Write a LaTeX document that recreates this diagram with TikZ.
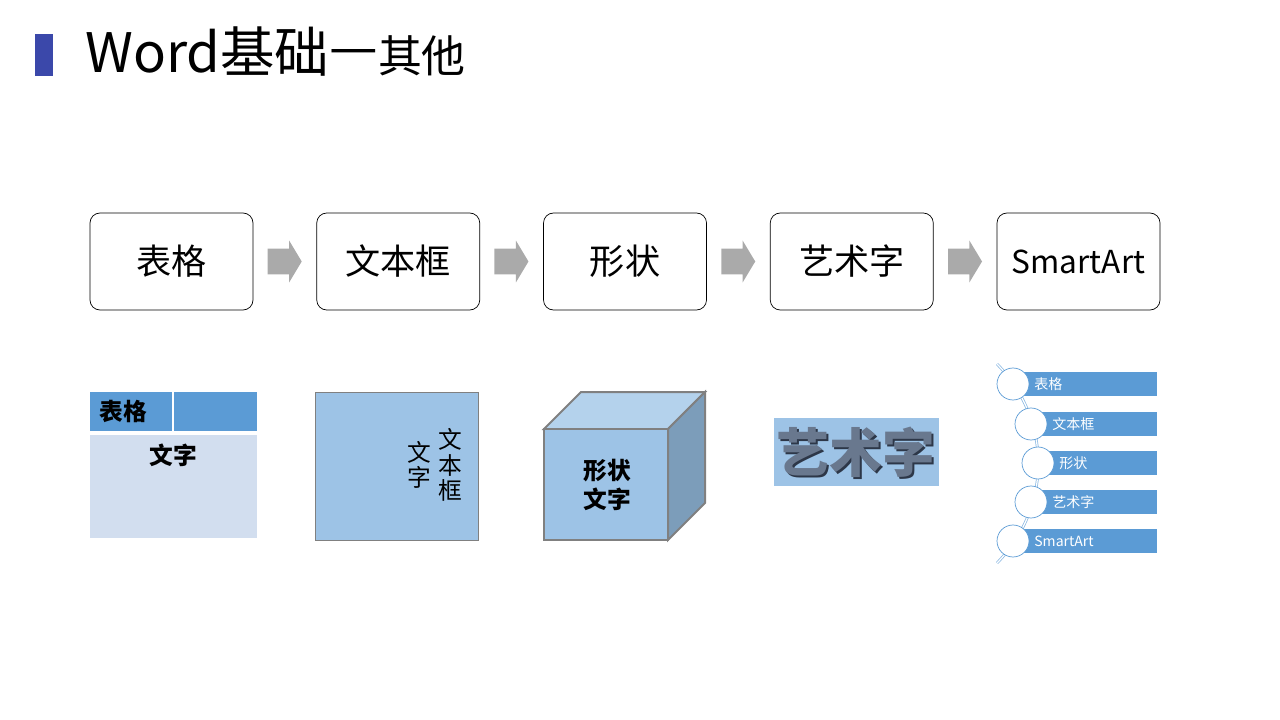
\documentclass[tikz,border=0pt]{standalone}
\usepackage{fontspec}
\setmainfont{Noto Sans CJK SC}
\usetikzlibrary{positioning,shapes.arrows,calc}
\definecolor{titlebar}{RGB}{59,72,170}
\definecolor{hdrblue}{RGB}{91,155,213}
\definecolor{cellblue}{RGB}{210,222,239}
\definecolor{boxblue}{RGB}{157,195,230}
\definecolor{topblue}{RGB}{180,210,236}
\definecolor{sideblue}{RGB}{124,157,186}
\definecolor{arrowgray}{RGB}{170,170,170}
\definecolor{edgegray}{RGB}{128,128,128}
\definecolor{artgray}{RGB}{105,120,142}
\definecolor{artshadow}{RGB}{45,55,72}
\begin{document}
\begin{tikzpicture}[x=0.2mm,y=-0.2mm,node distance=0 and 12.75mm,
  stepbox/.style={draw,rounded corners=2mm,minimum width=32.6mm,minimum height=19.4mm,
              inner sep=0pt,outer sep=0pt,font=\fontsize{20}{24}\selectfont},
  blockarrow/.style={single arrow,fill=arrowgray,minimum height=6.8mm,inner xsep=0pt,
              inner ysep=2.5mm,single arrow head extend=1.6mm,single arrow tip angle=118,
              xshift=-0.8mm},
  celltext/.style={font=\fontsize{13.5}{14.5}\selectfont\bfseries,inner sep=0pt},
  vtext/.style={font=\fontsize{13.5}{14.5}\selectfont,align=center,inner sep=0pt},
  ball/.style={circle,draw=hdrblue,fill=white,minimum size=6.4mm,inner sep=0pt},
  itemtext/.style={anchor=west,text=white,font=\fontsize{8}{9}\selectfont,inner sep=0pt}]
  \useasboundingbox (0,0) rectangle (1280,720);
  % title
  \fill[titlebar] (35,34) rectangle (53,76);
  \node[anchor=base west,font=\fontsize{31}{36}\selectfont] (title) at (79,73) {Word基础\raisebox{1.2mm}{—}{\fontsize{25}{30}\selectfont 其他}};
  % top row
  \node[stepbox] (s1) at (171.5,261.5) {表格};
  \node[stepbox, right=of s1] (s2) {文本框};
  \node[stepbox, right=of s2] (s3) {形状};
  \node[stepbox, right=of s3] (s4) {艺术字};
  \node[stepbox, right=of s4, font=\fontsize{18}{22}\selectfont] (s5) {SmartArt};
  \foreach \a/\b in {s1/s2,s2/s3,s3/s4,s4/s5}
    \node[blockarrow] (arr-\a) at ($(\a.east)!0.5!(\b.west)$) {};
  % table
  \fill[hdrblue] (90,392) rectangle (257,431);
  \draw[white,line width=0.35mm] (173,392) -- (173,431);
  \fill[cellblue] (90,435) rectangle (257,538);
  \node[celltext] (tblhead) at (123,411) {表格};
  \node[celltext] (tblcell) at (173,455) {文字};
  % text box
  \node[draw=edgegray,fill=boxblue,minimum width=32.6mm,minimum height=29.6mm] (tbox) at (396.5,466) {};
  \node[vtext] (col1) at (450,465) {文\\本\\框};
  \node[vtext] (col2) at (419,465) {文\\字};
  % cube
  \filldraw[draw=edgegray,line width=0.4mm,fill=topblue] (544,429) -- (581,392) -- (705,392) -- (668,429) -- cycle;
  \filldraw[draw=edgegray,line width=0.4mm,fill=sideblue] (668,429) -- (705,392) -- (705,503) -- (668,540) -- cycle;
  \filldraw[draw=edgegray,line width=0.4mm,fill=boxblue] (544,429) rectangle (668,540);
  \node[celltext,align=center,font=\fontsize{13.5}{16.5}\selectfont\bfseries] (cubetext) at (607,485) {形状\\文字};
  % word art
  \fill[boxblue] (774,418) rectangle (939,486);
  \node[font=\fontsize{30}{34}\selectfont\bfseries,text=artshadow] (artshade) at (858,454) {艺术字};
  \node[font=\fontsize{30}{34}\selectfont\bfseries,text=artgray] (art) at (856,452) {艺术字};
  % smartart
  \draw[hdrblue!70,double=white,double distance=0.25mm,line width=0.15mm]
    (997,364) .. controls (1052,420) and (1052,507) .. (997,563);
  \foreach \n/\x/\y/\t in {1/1013/384/表格,2/1031/424/文本框,3/1038/463/形状,4/1031/502/艺术字,5/1013/541/SmartArt}{
    \fill[hdrblue] (\x,\y-12) rectangle (1157,\y+12);
    \node[ball] (ball\n) at (\x,\y) {};
    \node[itemtext] (item\n) at (\x+21,\y) {\t};
  }
\end{tikzpicture}
\end{document}
